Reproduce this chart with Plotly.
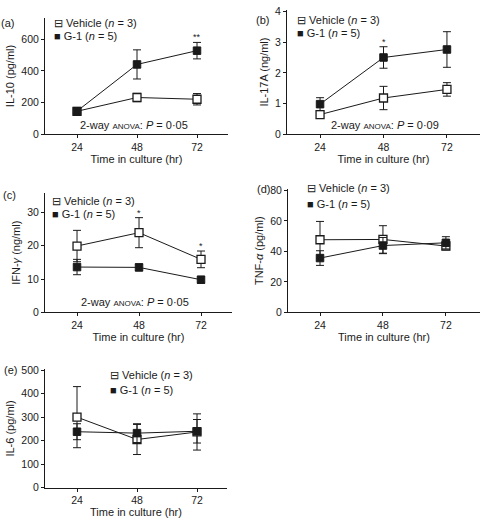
import plotly.graph_objects as go

W, H = 480, 525

time_hr = [24, 48, 72]
tick_labels = ["24", "48", "72"]

# (a) IL-10 (pg/ml)
a_vehicle = [145, 232, 221]
a_vehicle_err = [12, 26, 36]
a_g1 = [146, 441, 528]
a_g1_err = [14, 92, 52]

# (b) IL-17A (ng/ml)
b_vehicle = [0.64, 1.18, 1.46]
b_vehicle_err = [0.08, 0.38, 0.22]
b_g1 = [0.98, 2.5, 2.76]
b_g1_err = [0.21, 0.35, 0.58]

# (c) IFN-gamma (ng/ml)
c_vehicle = [19.9, 23.9, 15.9]
c_vehicle_err = [4.7, 4.5, 2.5]
c_g1 = [13.6, 13.5, 9.8]
c_g1_err = [2.3, 1.0, 1.0]

# (d) TNF-alpha (pg/ml)
d_vehicle = [47.6, 47.8, 43.5]
d_vehicle_err = [12, 9, 2.5]
d_g1 = [35.6, 43.8, 45.6]
d_g1_err = [4.8, 5.3, 4.0]

# (e) IL-6 (pg/ml)
e_vehicle = [300, 205, 237]
e_vehicle_err = [130, 64, 77]
e_g1 = [238, 232, 240]
e_g1_err = [34, 40, 50]

FONT = "Liberation Sans, Arial, Helvetica, sans-serif"
INK = "#1a1a1a"


def fx(px):
    return px / W


def fy(py):
    return 1 - py / H


panels = [
    dict(box=(45, 228, 13, 132), xr=[11.2, 84.4], yr=[0, 736], dtick=200,
         ytitle="IL-10 (pg/ml)", veh=a_vehicle, veh_e=a_vehicle_err, g1=a_g1, g1_e=a_g1_err),
    dict(box=(287, 480, 5, 132), xr=[11.5, 84.5], yr=[0, 4.05], dtick=1,
         ytitle="IL-17A (ng/ml)", veh=b_vehicle, veh_e=b_vehicle_err, g1=b_g1, g1_e=b_g1_err),
    dict(box=(45, 232, 192, 314), xr=[11.6, 84.0], yr=[0, 35.8], dtick=10,
         ytitle="IFN-<i>γ</i> (ng/ml)", veh=c_vehicle, veh_e=c_vehicle_err, g1=c_g1, g1_e=c_g1_err),
    dict(box=(288, 480, 188, 314), xr=[11.8, 85.0], yr=[0, 80.8], dtick=20,
         ytitle="TNF-<i>α</i> (pg/ml)", veh=d_vehicle, veh_e=d_vehicle_err, g1=d_g1, g1_e=d_g1_err),
    dict(box=(45, 227, 372, 493), xr=[11.2, 84.0], yr=[0, 504], dtick=100,
         ytitle="IL-6 (pg/ml)", veh=e_vehicle, veh_e=e_vehicle_err, g1=e_g1, g1_e=e_g1_err),
]

fig = go.Figure()
layout = dict(
    width=W, height=H,
    margin=dict(l=0, r=0, t=0, b=0),
    paper_bgcolor="white", plot_bgcolor="white",
    showlegend=False,
    font=dict(family=FONT, size=11, color=INK),
)

for i, p in enumerate(panels):
    n = "" if i == 0 else str(i + 1)
    xa, ya = "x" + n, "y" + n
    l, r, t, b = p["box"]
    layout["xaxis" + n] = dict(
        domain=[fx(l), fx(r)], range=p["xr"], anchor=ya,
        tickvals=time_hr, ticktext=tick_labels,
        showline=True, linecolor=INK, linewidth=1,
        ticks="outside", ticklen=3, tickcolor=INK, tickwidth=1,
        showgrid=False, zeroline=False,
        tickfont=dict(size=10.5),
        title=dict(text="Time in culture (hr)", font=dict(size=11), standoff=3),
    )
    layout["yaxis" + n] = dict(
        domain=[fy(b), fy(t)], range=p["yr"], anchor=xa,
        dtick=p["dtick"], tick0=0,
        showline=True, linecolor=INK, linewidth=1,
        ticks="outside", ticklen=3, tickcolor=INK, tickwidth=1,
        showgrid=False, zeroline=False,
        tickfont=dict(size=10.5),
        title=dict(text=p["ytitle"], font=dict(size=11), standoff=4),
    )
    fig.add_trace(go.Scatter(
        x=time_hr, y=p["veh"], xaxis=xa, yaxis=ya, mode="lines+markers",
        name="Vehicle (n = 3)",
        line=dict(color=INK, width=1),
        marker=dict(symbol="square", size=8, color="white", line=dict(color=INK, width=1.3)),
        error_y=dict(type="data", array=p["veh_e"], visible=True, color=INK, thickness=1, width=4),
    ))
    fig.add_trace(go.Scatter(
        x=time_hr, y=p["g1"], xaxis=xa, yaxis=ya, mode="lines+markers",
        name="G-1 (n = 5)",
        line=dict(color=INK, width=1),
        marker=dict(symbol="square", size=7.5, color=INK, line=dict(color=INK, width=1)),
        error_y=dict(type="data", array=p["g1_e"], visible=True, color=INK, thickness=1, width=4),
    ))

ann = []
letters = [("(a)", 7, 18), ("(b)", 262, 15), ("(c)", 9, 194), ("(d)", 263, 188), ("(e)", 10, 373)]
for txt, x, y in letters:
    ann.append(dict(text=txt, x=fx(x), y=fy(y), xref="paper", yref="paper",
                    xanchor="center", yanchor="middle", showarrow=False, font=dict(size=11)))

legends = [(52, 18, 32), (295, 15, 29), (50, 200, 213), (305, 187, 203), (108, 378, 393)]
for x, y1, y2 in legends:
    ann.append(dict(text="⊟ Vehicle (<i>n</i> = 3)", x=fx(x), y=fy(y1), xref="paper", yref="paper",
                    xanchor="left", yanchor="middle", showarrow=False, font=dict(size=11)))
    ann.append(dict(text="■ G-1 (<i>n</i> = 5)", x=fx(x), y=fy(y2), xref="paper", yref="paper",
                    xanchor="left", yanchor="middle", showarrow=False, font=dict(size=11)))

anova = [("0·05", 134, 123), ("0·09", 385, 123), ("0·05", 135, 303)]
for pv, x, y in anova:
    ann.append(dict(text="2-way <span style='font-size:8px'>ANOVA</span>: <i>P</i> = " + pv,
                    x=fx(x), y=fy(y), xref="paper", yref="paper",
                    xanchor="center", yanchor="middle", showarrow=False, font=dict(size=11)))

sig = [("**", "x", "y", 72, a_g1[2] + a_g1_err[2]),
       ("*", "x2", "y2", 48, b_g1[1] + b_g1_err[1]),
       ("*", "x3", "y3", 48, c_vehicle[1] + c_vehicle_err[1]),
       ("*", "x3", "y3", 72, c_vehicle[2] + c_vehicle_err[2])]
for txt, xr, yr, xv, yv in sig:
    ann.append(dict(text=txt, x=xv, y=yv, xref=xr, yref=yr, xanchor="center", yanchor="bottom",
                    showarrow=False, font=dict(size=9), yshift=-2))

layout["annotations"] = ann
fig.update_layout(**layout)
fig.write_html(
    "out.html",
    config={"displayModeBar": False},
    post_script="document.body.style.margin='0';document.body.style.overflow='hidden';",
)
